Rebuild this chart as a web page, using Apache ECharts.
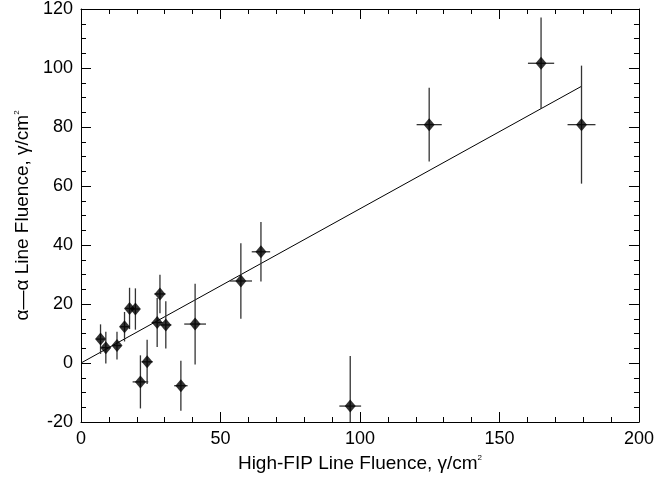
<!DOCTYPE html>
<html>
<head>
<meta charset="utf-8">
<script src="https://cdn.jsdelivr.net/npm/echarts@6/dist/echarts.min.js"></script>
<style>
  html, body { margin: 0; padding: 0; background: #fff; }
  #box { width: 657px; height: 478px; }
</style>
</head>
<body>
<div id="box"></div>
<script>
// fluence points
var xVals = [7.0, 8.9, 12.9, 15.6, 17.4, 19.5, 21.3, 23.7, 27.3, 28.3, 30.4, 35.8, 40.9, 57.3, 64.5, 96.5, 124.8, 164.9, 179.4];
var yVals = [8.1, 5.2, 5.9, 12.3, 18.5, 18.3, -6.4, 0.4, 13.7, 23.4, 12.9, -7.7, 13.2, 27.8, 37.7, -14.6, 80.8, 101.6, 80.8];
var xErr = [1.5, 1.5, 1.5, 1.5, 1.5, 1.5, 2.8, 2, 2, 2, 2, 2.4, 3.9, 4, 3.3, 3.9, 4.5, 4.7, 5];
var yErr = [5, 5.4, 4.7, 5, 7, 7, 9, 7.5, 8.3, 6.5, 8, 8.5, 13.7, 12.8, 10.1, 17, 12.5, 15.5, 20];
// straight fit line through origin
var fitX = [0, 179.4];
var fitY = [0, 93.8];

var xTicks = [0, 50, 100, 150, 200];
var yTicks = [-20, 0, 20, 40, 60, 80, 100, 120];

var font = "'Liberation Sans', Arial, sans-serif";
var chart = echarts.init(document.getElementById("box"));

var pts = [], bars = [];
for (var i = 0; i < xVals.length; i++) {
  pts.push([xVals[i], yVals[i]]);
  bars.push([xVals[i], yVals[i], xErr[i], yErr[i]]);
}
var fitData = [];
for (var j = 0; j < fitX.length; j++) fitData.push([fitX[j], fitY[j]]);

var supStyle = { s: { fontSize: 8, verticalAlign: "top", padding: [0, 0, 10, 0], color: "#000", fontFamily: font } };

function axisCommon(showLabel) {
  return {
    axisLine: { show: true, onZero: false, lineStyle: { color: "#000", width: 1 } },
    axisTick: { show: true, inside: true, length: 10, lineStyle: { color: "#000" } },
    minorTick: { show: true, splitNumber: 4, length: 5, lineStyle: { color: "#000" } },
    splitLine: { show: false },
    axisLabel: { show: showLabel, color: "#000", fontSize: 18, fontFamily: font, margin: 8 }
  };
}

var xBottom = Object.assign(axisCommon(true), {
  type: "value", position: "bottom",
  min: xTicks[0], max: xTicks[xTicks.length - 1], interval: 50,
  name: "High-FIP Line Fluence, γ/cm{s|2}",
  nameLocation: "middle", nameGap: 32,
  nameTextStyle: { color: "#000", fontSize: 19, fontFamily: font, rich: supStyle }
});
xBottom.minorTick.splitNumber = 5;
var xTop = Object.assign(axisCommon(false), {
  type: "value", position: "top",
  min: xTicks[0], max: xTicks[xTicks.length - 1], interval: 50
});
xTop.minorTick.splitNumber = 5;

var yLeft = Object.assign(axisCommon(true), {
  type: "value", position: "left",
  min: yTicks[0], max: yTicks[yTicks.length - 1], interval: 20,
  name: "α—α Line Fluence, γ/cm{s|2}",
  nameLocation: "middle", nameGap: 46, nameRotate: 90,
  nameTextStyle: { color: "#000", fontSize: 19, fontFamily: font, rich: supStyle }
});
var yRight = Object.assign(axisCommon(false), {
  type: "value", position: "right",
  min: yTicks[0], max: yTicks[yTicks.length - 1], interval: 20
});

var option = {
  backgroundColor: "#fff",
  animation: false,
  grid: { left: 81, right: 18, top: 9, bottom: 56, containLabel: false },
  xAxis: [xBottom, xTop],
  yAxis: [yLeft, yRight],
  series: [
    {
      type: "line",
      data: fitData,
      showSymbol: false,
      symbol: "none",
      lineStyle: { color: "#000", width: 1 },
      z: 2
    },
    {
      type: "custom",
      data: bars,
      clip: true,
      z: 3,
      renderItem: function (params, api) {
        var x = api.value(0), y = api.value(1), ex = api.value(2), ey = api.value(3);
        var lo = Math.max(y - ey, yTicks[0]);
        var p1 = api.coord([x, y + ey]);
        var p2 = api.coord([x, lo]);
        var p3 = api.coord([x - ex, y]);
        var p4 = api.coord([x + ex, y]);
        var st = { stroke: "#333", lineWidth: 1.3 };
        return {
          type: "group",
          children: [
            { type: "line", shape: { x1: p1[0], y1: p1[1], x2: p2[0], y2: p2[1] }, style: st },
            { type: "line", shape: { x1: p3[0], y1: p3[1], x2: p4[0], y2: p4[1] }, style: st }
          ]
        };
      }
    },
    {
      type: "scatter",
      data: pts,
      symbol: "diamond",
      symbolSize: [11, 13],
      itemStyle: { color: "#000" },
      z: 4
    }
  ]
};
chart.setOption(option);
</script>
</body>
</html>
